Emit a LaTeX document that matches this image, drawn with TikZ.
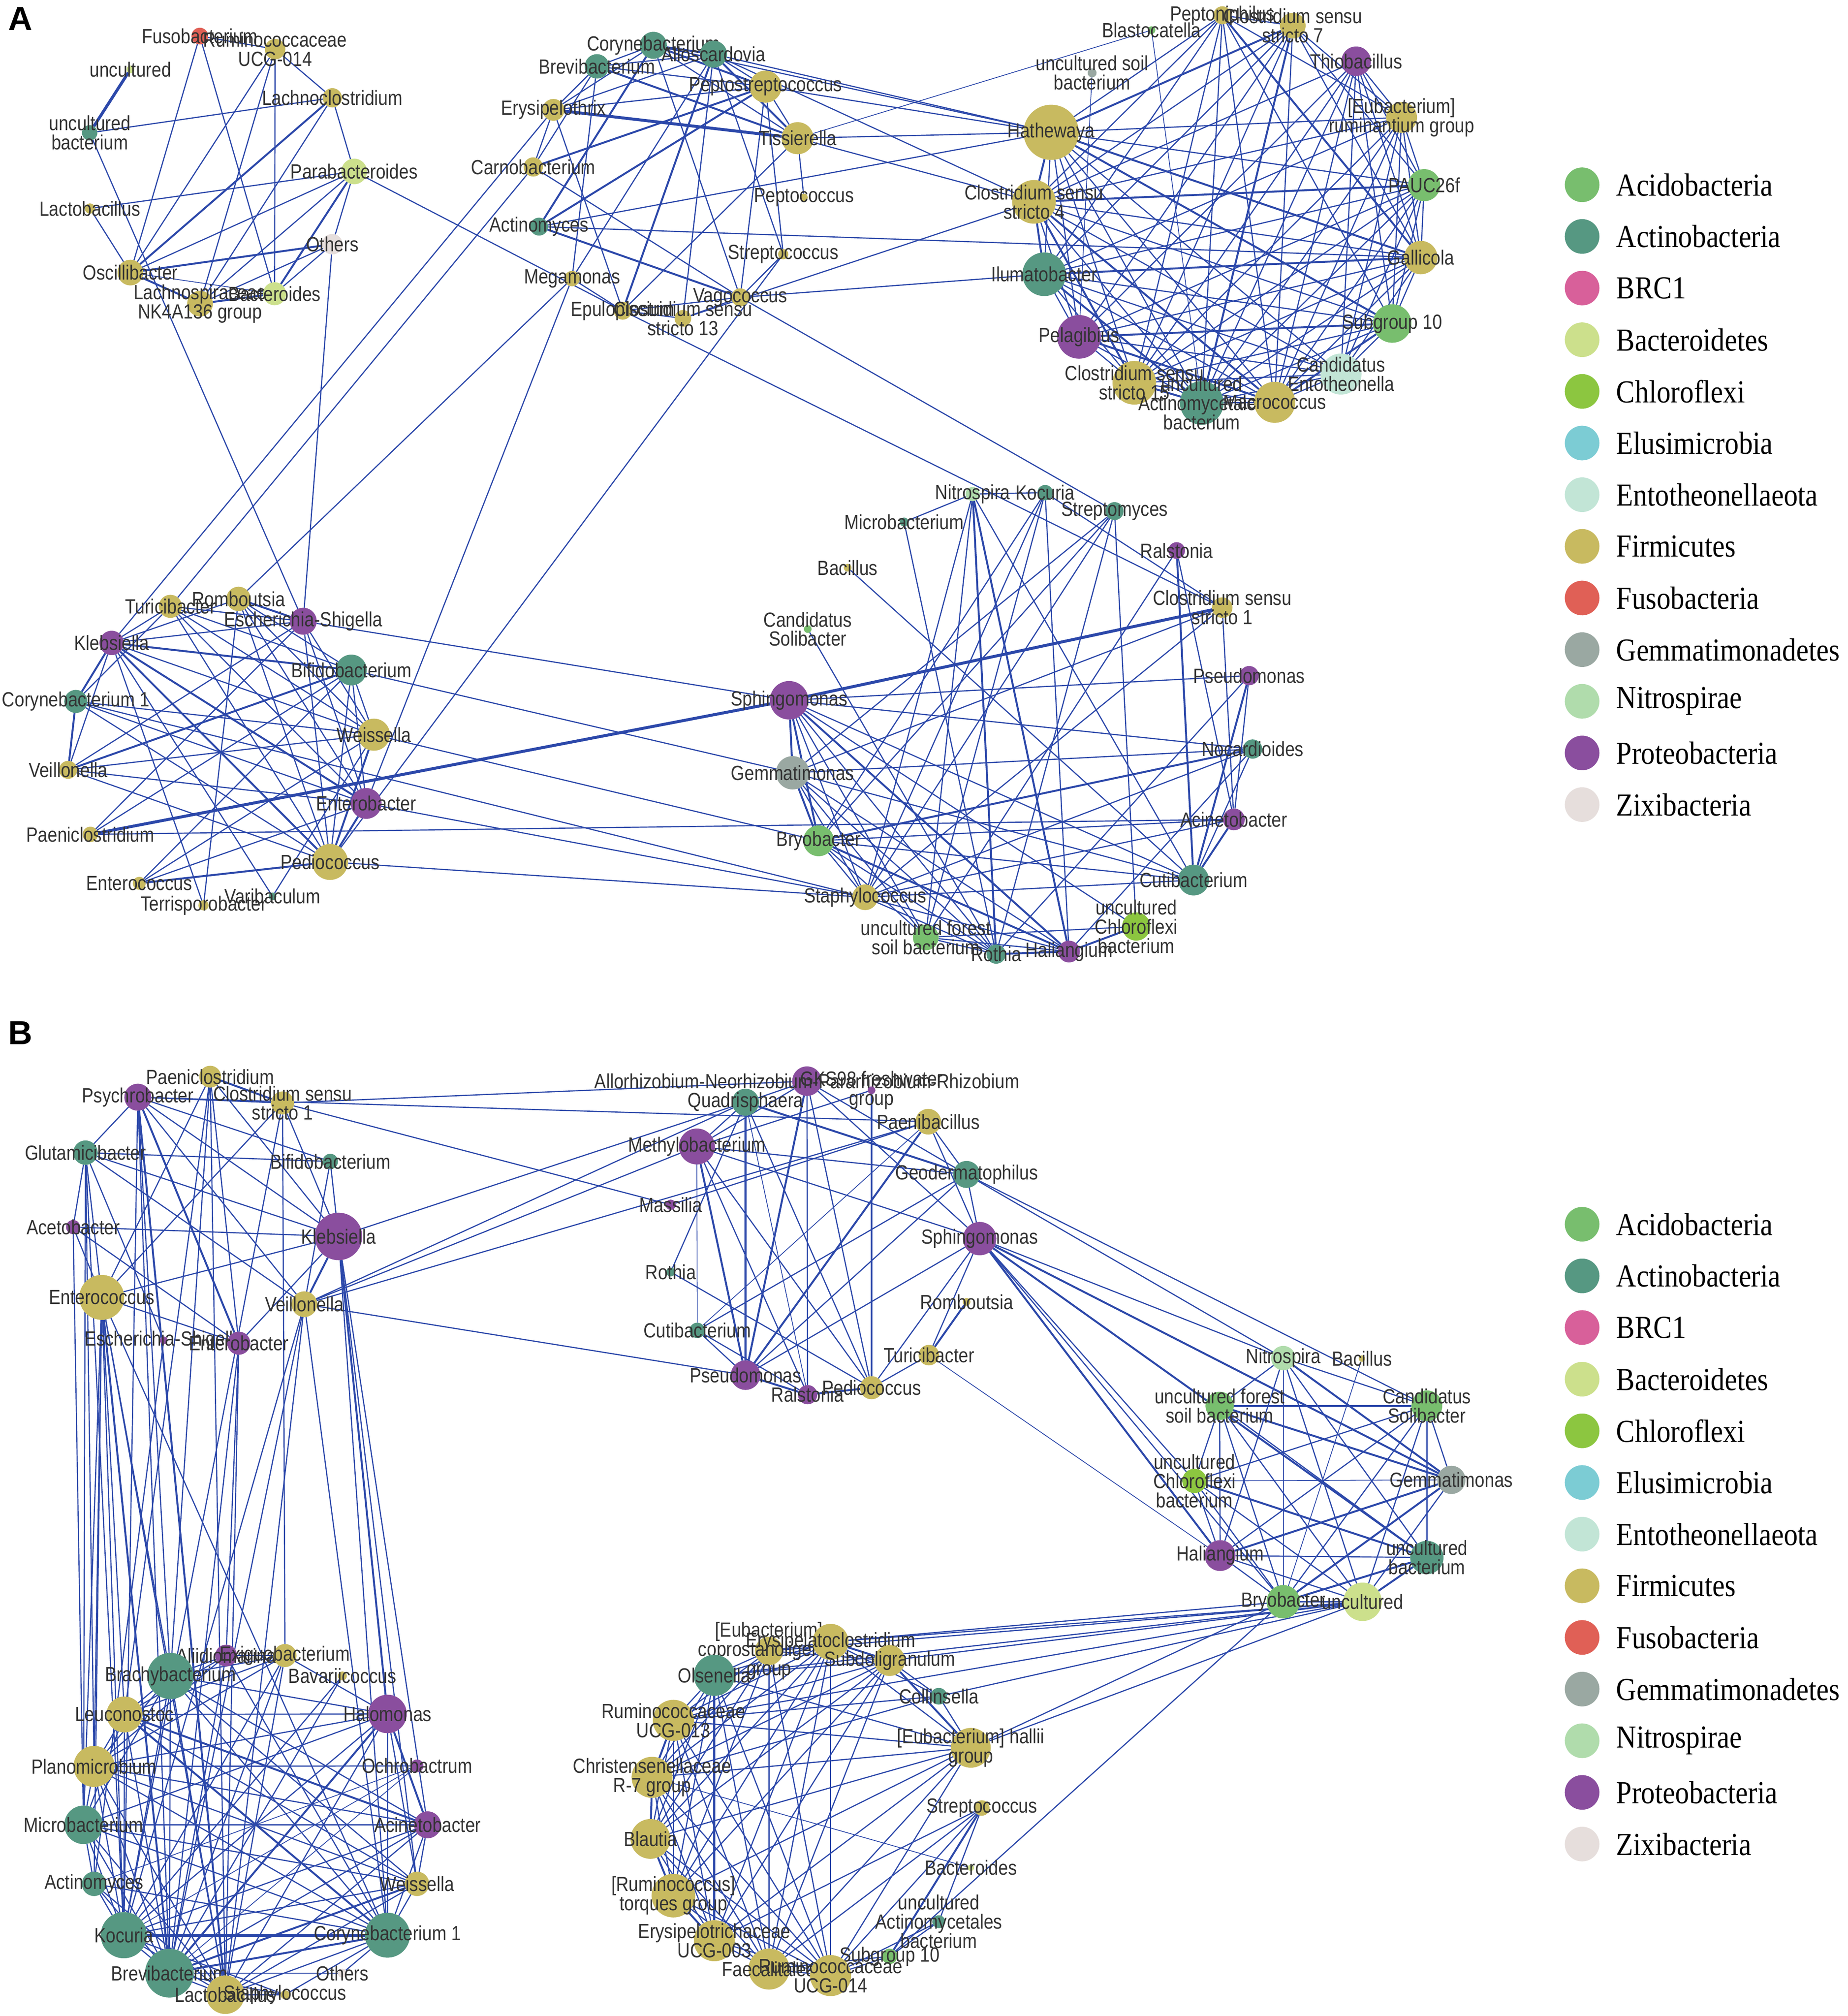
\documentclass[tikz,border=0pt]{standalone}
\usepackage{fontspec}
\setmainfont{Liberation Serif}
\newfontfamily\labfont[FakeStretch=0.85]{Liberation Sans}
\newfontfamily\legfont[FakeStretch=0.87]{Liberation Serif}
\newfontfamily\panelfont{Liberation Sans}
\usetikzlibrary{positioning}
\pgfdeclarelayer{background}
\pgfsetlayers{background,main}
\definecolor{acido}{RGB}{120,190,110}
\definecolor{actino}{RGB}{86,152,130}
\definecolor{brc}{RGB}{216,96,154}
\definecolor{bactero}{RGB}{204,224,140}
\definecolor{chloro}{RGB}{140,198,64}
\definecolor{elusi}{RGB}{124,204,212}
\definecolor{ento}{RGB}{194,229,214}
\definecolor{firm}{RGB}{200,186,96}
\definecolor{fuso}{RGB}{224,96,86}
\definecolor{gemma}{RGB}{154,168,162}
\definecolor{nitro}{RGB}{176,220,172}
\definecolor{proteo}{RGB}{138,78,158}
\definecolor{zixi}{RGB}{230,222,220}
\definecolor{edgeblue}{RGB}{44,72,170}
\definecolor{labgray}{RGB}{51,51,51}

\begin{document}
\begin{tikzpicture}[x=1pt, y=-1pt]
	\tikzstyle{VertexStyle}=[shape=circle, draw=none, inner sep=0pt, outer sep=0pt]
	\tikzstyle{acidoStyle}=[VertexStyle, fill=acido]
	\tikzstyle{actinoStyle}=[VertexStyle, fill=actino]
	\tikzstyle{brcStyle}=[VertexStyle, fill=brc]
	\tikzstyle{bacteroStyle}=[VertexStyle, fill=bactero]
	\tikzstyle{chloroStyle}=[VertexStyle, fill=chloro]
	\tikzstyle{elusiStyle}=[VertexStyle, fill=elusi]
	\tikzstyle{entoStyle}=[VertexStyle, fill=ento]
	\tikzstyle{firmStyle}=[VertexStyle, fill=firm]
	\tikzstyle{fusoStyle}=[VertexStyle, fill=fuso]
	\tikzstyle{gemmaStyle}=[VertexStyle, fill=gemma]
	\tikzstyle{nitroStyle}=[VertexStyle, fill=nitro]
	\tikzstyle{proteoStyle}=[VertexStyle, fill=proteo]
	\tikzstyle{zixiStyle}=[VertexStyle, fill=zixi]
	\tikzstyle{every label}=[font=\labfont\fontsize{16}{15}\selectfont, text=labgray, align=center, inner sep=0pt]
	\tikzstyle{EdgeStyle}=[draw=edgeblue, line width=0.9pt]
	\tikzstyle{thinEdgeStyle}=[draw=edgeblue, line width=0.6pt]
	\tikzstyle{thickEdgeStyle}=[draw=edgeblue, line width=1.5pt]
	\tikzstyle{heavyEdgeStyle}=[draw=edgeblue, line width=2.3pt]
	\tikzstyle{legendStyle}=[font=\legfont\fontsize{25}{25}\selectfont, inner sep=0pt, text=black]
	\tikzstyle{panelStyle}=[font=\panelfont\bfseries\fontsize{26}{26}\selectfont, inner sep=0pt]
	\useasboundingbox (0,0) rectangle (1440,1571);
	\node[panelStyle] (panelA) at (16,14.5) {A};
	\node[panelStyle] (panelB) at (16,805) {B};
	% panel A, upper left group
	\node[fusoStyle, minimum size=13pt, label={center:Fusobacterium}] (aFuso) at (155.7,28.1) {};
	\node[firmStyle, minimum size=16pt, label={center:{Ruminococcaceae\\UCG-014}}] (aRum014) at (214.4,38.3) {};
	\node[bacteroStyle, minimum size=6pt, label={center:uncultured}] (aUncult) at (101.6,54.1) {};
	\node[actinoStyle, minimum size=12pt, label={center:{uncultured\\bacterium}}] (aUncBact) at (69.9,103.5) {};
	\node[firmStyle, minimum size=15pt, label={center:Lachnoclostridium}] (aLachno) at (259,76.2) {};
	\node[bacteroStyle, minimum size=20pt, label={center:Parabacteroides}] (aParab) at (276,133.6) {};
	\node[firmStyle, minimum size=8pt, label={center:Lactobacillus}] (aLacto) at (70.1,162.5) {};
	\node[zixiStyle, minimum size=16pt, label={center:Others}] (aOthers) at (259,190.3) {};
	\node[firmStyle, minimum size=20pt, label={center:Oscillibacter}] (aOscill) at (101.6,212.4) {};
	\node[firmStyle, minimum size=20pt, label={center:{Lachnospiraceae\\NK4A136 group}}] (aLachsp) at (155.9,236.6) {};
	\node[bacteroStyle, minimum size=18pt, label={center:Bacteroides}] (aBacter) at (214,228.9) {};
	% panel A, upper middle group
	\node[actinoStyle, minimum size=21pt, label={center:Corynebacterium}] (aCoryne) at (509.2,35.3) {};
	\node[actinoStyle, minimum size=21pt, label={center:Alloscardovia}] (aAllos) at (556.1,42.2) {};
	\node[actinoStyle, minimum size=19pt, label={center:Brevibacterium}] (aBrevi) at (465.2,51.7) {};
	\node[firmStyle, minimum size=25pt, label={center:Peptostreptococcus}] (aPeptostr) at (596.6,67.5) {};
	\node[firmStyle, minimum size=17pt, label={center:Erysipelothrix}] (aErysip) at (431.3,85.6) {};
	\node[firmStyle, minimum size=25pt, label={center:Tissierella}] (aTissi) at (621.6,107.7) {};
	\node[firmStyle, minimum size=15pt, label={center:Carnobacterium}] (aCarno) at (415.6,130.1) {};
	\node[firmStyle, minimum size=6pt, label={center:Peptococcus}] (aPeptoc) at (626.5,153.9) {};
	\node[actinoStyle, minimum size=14pt, label={center:Actinomyces}] (aActino) at (420.1,176.6) {};
	\node[firmStyle, minimum size=8pt, label={center:Streptococcus}] (aStrepto) at (610.4,198.1) {};
	\node[firmStyle, minimum size=12pt, label={center:Megamonas}] (aMegam) at (445.8,217.1) {};
	\node[firmStyle, minimum size=14pt, label={center:Vagococcus}] (aVago) at (576.9,231.7) {};
	\node[firmStyle, minimum size=14pt, label={center:Epulopiscium}] (aEpulo) at (485.3,242.1) {};
	\node[firmStyle, minimum size=13pt, label={center:{Clostridium sensu\\stricto 13}}] (aClos13) at (532.2,248.1) {};
	% panel A, upper right group
	\node[firmStyle, minimum size=14pt, label={center:Peptoniphilus}] (aPeptoni) at (952.6,11.9) {};
	\node[acidoStyle, minimum size=6pt, label={center:Blastocatella}] (aBlasto) at (897.4,23.5) {};
	\node[firmStyle, minimum size=20pt, label={center:{Clostridium sensu\\stricto 7}}] (aClos7) at (1007.5,20) {};
	\node[proteoStyle, minimum size=23pt, label={center:Thiobacillus}] (aThio) at (1056.9,47.7) {};
	\node[gemmaStyle, minimum size=7pt, label={center:{uncultured soil\\bacterium}}] (aUncSoil) at (851.1,56.8) {};
	\node[firmStyle, minimum size=24pt, label={center:{[Eubacterium]\\ruminantium group}}] (aEubRum) at (1092.3,91.5) {};
	\node[firmStyle, minimum size=43pt, label={center:Hathewaya}] (aHathe) at (819.2,103.1) {};
	\node[acidoStyle, minimum size=25pt, label={center:PAUC26f}] (aPAUC) at (1109.9,144.3) {};
	\node[firmStyle, minimum size=34pt, label={center:{Clostridium sensu\\stricto 4}}] (aClos4) at (805.8,157.3) {};
	\node[firmStyle, minimum size=26pt, label={center:Gallicola}] (aGalli) at (1107.3,200.7) {};
	\node[actinoStyle, minimum size=34pt, label={center:Ilumatobacter}] (aIluma) at (813.8,213.7) {};
	\node[acidoStyle, minimum size=30pt, label={center:Subgroup 10}] (aSub10) at (1085,252.1) {};
	\node[proteoStyle, minimum size=34pt, label={center:Pelagibius}] (aPelag) at (840.9,262.5) {};
	\node[entoStyle, minimum size=32pt, label={center:{Candidatus\\Entotheonella}}] (aEntoth) at (1045.1,291.5) {};
	\node[firmStyle, minimum size=34pt, label={center:{Clostridium sensu\\stricto 15}}] (aClos15) at (884,298.3) {};
	\node[actinoStyle, minimum size=34pt, label={center:{uncultured\\Actinomycetales\\bacterium}}] (aUncActino) at (936.6,314) {};
	\node[firmStyle, minimum size=32pt, label={center:Macrococcus}] (aMacro) at (993.4,313.5) {};
	% panel A, lower left group
	\node[firmStyle, minimum size=18pt, label={center:Turicibacter}] (aTurici) at (132.8,472.5) {};
	\node[firmStyle, minimum size=19pt, label={center:Romboutsia}] (aRombo) at (185.9,466.7) {};
	\node[proteoStyle, minimum size=21pt, label={center:Escherichia-Shigella}] (aEsch) at (236.3,484.1) {};
	\node[proteoStyle, minimum size=19pt, label={center:Klebsiella}] (aKleb) at (87,501) {};
	\node[actinoStyle, minimum size=24pt, label={center:Bifidobacterium}] (aBifido) at (273.8,522.1) {};
	\node[actinoStyle, minimum size=18pt, label={center:Corynebacterium 1}] (aCoryne1) at (59.1,546.6) {};
	\node[firmStyle, minimum size=25pt, label={center:Weissella}] (aWeiss) at (291.4,572.5) {};
	\node[firmStyle, minimum size=14pt, label={center:Veillonella}] (aVeill) at (53.1,599.9) {};
	\node[proteoStyle, minimum size=24pt, label={center:Enterobacter}] (aEntbac) at (285.4,626.1) {};
	\node[firmStyle, minimum size=12pt, label={center:Paeniclostridium}] (aPaeni) at (70.4,650.2) {};
	\node[firmStyle, minimum size=28pt, label={center:Pediococcus}] (aPedio) at (257.2,671.7) {};
	\node[firmStyle, minimum size=10pt, label={center:Enterococcus}] (aEntcoc) at (108.5,688.3) {};
	\node[firmStyle, minimum size=8pt, label={center:Terrisporobacter}] (aTerri) at (158.6,705.5) {};
	\node[actinoStyle, minimum size=6pt, label={center:Varibaculum}] (aVarib) at (212.4,698.5) {};
	% panel A, lower right group
	\node[nitroStyle, minimum size=11pt, label={center:Nitrospira}] (aNitro) at (758,385) {};
	\node[actinoStyle, minimum size=12pt, label={center:Kocuria}] (aKocur) at (814.5,383.9) {};
	\node[actinoStyle, minimum size=7pt, label={center:Microbacterium}] (aMicro) at (704.6,406.8) {};
	\node[actinoStyle, minimum size=14pt, label={center:Streptomyces}] (aStrmy) at (868.6,398.3) {};
	\node[proteoStyle, minimum size=13pt, label={center:Ralstonia}] (aRals) at (917,429) {};
	\node[firmStyle, minimum size=6pt, label={center:Bacillus}] (aBacil) at (660.6,442.4) {};
	\node[firmStyle, minimum size=16pt, label={center:{Clostridium sensu\\stricto 1}}] (aClos1) at (952.5,473.5) {};
	\node[acidoStyle, minimum size=6pt, label={center:{Candidatus\\Solibacter}}] (aCandSol) at (629.5,490.2) {};
	\node[proteoStyle, minimum size=15pt, label={center:Pseudomonas}] (aPseudo) at (973.5,526.5) {};
	\node[proteoStyle, minimum size=30pt, label={center:Sphingomonas}] (aSphingo) at (615,545.7) {};
	\node[actinoStyle, minimum size=15pt, label={center:Nocardioides}] (aNocar) at (976.2,583.7) {};
	\node[gemmaStyle, minimum size=26pt, label={center:Gemmatimonas}] (aGemma) at (617.7,602.2) {};
	\node[proteoStyle, minimum size=17pt, label={center:Acinetobacter}] (aAcine) at (961.6,638.5) {};
	\node[acidoStyle, minimum size=24pt, label={center:Bryobacter}] (aBryo) at (638,655.2) {};
	\node[actinoStyle, minimum size=24pt, label={center:Cutibacterium}] (aCuti) at (930.2,685.8) {};
	\node[firmStyle, minimum size=20pt, label={center:Staphylococcus}] (aStaph) at (674.2,699.2) {};
	\node[acidoStyle, minimum size=20pt, label={center:{uncultured forest\\soil bacterium}}] (aUncForest) at (721.5,730.5) {};
	\node[chloroStyle, minimum size=22pt, label={center:{uncultured\\Chloroflexi\\bacterium}}] (aUncChloro) at (885.5,722) {};
	\node[actinoStyle, minimum size=15pt, label={center:Rothia}] (aRothia) at (776.3,743.5) {};
	\node[proteoStyle, minimum size=17pt, label={center:Haliangium}] (aHalia) at (833.1,741.5) {};
	% panel B, upper left group
	\node[firmStyle, minimum size=17pt, label={center:Paeniclostridium}] (bPaeni) at (163.8,839) {};
	\node[proteoStyle, minimum size=21pt, label={center:Psychrobacter}] (bPsych) at (107.4,855) {};
	\node[firmStyle, minimum size=18pt, label={center:{Clostridium sensu\\stricto 1}}] (bClos1) at (220.2,859.5) {};
	\node[actinoStyle, minimum size=19pt, label={center:Glutamicibacter}] (bGluta) at (66.6,898.2) {};
	\node[actinoStyle, minimum size=12pt, label={center:Bifidobacterium}] (bBifido) at (257.4,905.1) {};
	\node[proteoStyle, minimum size=11pt, label={center:Acetobacter}] (bAceto) at (57,956.2) {};
	\node[proteoStyle, minimum size=37pt, label={center:Klebsiella}] (bKleb) at (263.8,963.5) {};
	\node[firmStyle, minimum size=35pt, label={center:Enterococcus}] (bEntcoc) at (79.3,1011) {};
	\node[firmStyle, minimum size=20pt, label={center:Veillonella}] (bVeill) at (237.2,1016.3) {};
	\node[proteoStyle, minimum size=6pt, label={center:Escherichia-Shigella}] (bEsch) at (127.6,1044.5) {};
	\node[proteoStyle, minimum size=18pt, label={center:Enterobacter}] (bEntbac) at (186.1,1046.7) {};
	% panel B, upper middle group
	\node[proteoStyle, minimum size=23pt, label={center:Allorhizobium-Neorhizobium-Pararhizobium-Rhizobium}] (bAllorh) at (628.9,842.5) {};
	\node[proteoStyle, minimum size=6pt, label={center:{GKS98 freshwater\\group}}] (bGKS) at (679.2,849.6) {};
	\node[actinoStyle, minimum size=21pt, label={center:Quadrisphaera}] (bQuadri) at (581,858.9) {};
	\node[firmStyle, minimum size=20pt, label={center:Paenibacillus}] (bPaenib) at (723.4,874.1) {};
	\node[proteoStyle, minimum size=28pt, label={center:Methylobacterium}] (bMethyl) at (543.1,893.4) {};
	\node[actinoStyle, minimum size=21pt, label={center:Geodermatophilus}] (bGeoder) at (753.3,915.2) {};
	\node[proteoStyle, minimum size=8pt, label={center:Massilia}] (bMassil) at (522.7,938.8) {};
	\node[proteoStyle, minimum size=26pt, label={center:Sphingomonas}] (bSphingo) at (763.5,965.2) {};
	\node[actinoStyle, minimum size=7pt, label={center:Rothia}] (bRothia) at (522.7,991.2) {};
	\node[firmStyle, minimum size=6pt, label={center:Romboutsia}] (bRombo) at (753.3,1014.5) {};
	\node[actinoStyle, minimum size=12pt, label={center:Cutibacterium}] (bCuti) at (543.4,1036.7) {};
	\node[firmStyle, minimum size=16pt, label={center:Turicibacter}] (bTurici) at (723.9,1056) {};
	\node[proteoStyle, minimum size=23pt, label={center:Pseudomonas}] (bPseudo) at (581,1071.6) {};
	\node[firmStyle, minimum size=18pt, label={center:Pediococcus}] (bPedio) at (679.2,1081.4) {};
	\node[proteoStyle, minimum size=15pt, label={center:Ralstonia}] (bRals) at (629.4,1086.8) {};
	% panel B, right group
	\node[nitroStyle, minimum size=19pt, label={center:Nitrospira}] (bNitro) at (1000.1,1058.3) {};
	\node[firmStyle, minimum size=5pt, label={center:Bacillus}] (bBacil) at (1061.4,1058.7) {};
	\node[acidoStyle, minimum size=22pt, label={center:{uncultured forest\\soil bacterium}}] (bUncForest) at (950.5,1095.5) {};
	\node[acidoStyle, minimum size=24pt, label={center:{Candidatus\\Solibacter}}] (bCandSol) at (1112,1095.5) {};
	\node[chloroStyle, minimum size=19pt, label={center:{uncultured\\Chloroflexi\\bacterium}}] (bUncChloro) at (930.9,1154) {};
	\node[gemmaStyle, minimum size=22pt, label={center:Gemmatimonas}] (bGemma) at (1131.1,1153.2) {};
	\node[proteoStyle, minimum size=24pt, label={center:Haliangium}] (bHalia) at (950.9,1212.2) {};
	\node[actinoStyle, minimum size=26pt, label={center:{uncultured\\bacterium}}] (bUncBact) at (1112,1213.7) {};
	\node[acidoStyle, minimum size=26pt, label={center:Bryobacter}] (bBryo) at (1000.1,1248.2) {};
	\node[bacteroStyle, minimum size=30pt, label={center:uncultured}] (bUncult) at (1061.9,1248.2) {};
	% panel B, lower left group
	\node[proteoStyle, minimum size=17pt, label={center:Aliidiomarina}] (bAliidi) at (176.2,1290.1) {};
	\node[firmStyle, minimum size=18pt, label={center:Exiguobacterium}] (bExigu) at (222.1,1290.1) {};
	\node[actinoStyle, minimum size=36pt, label={center:Brachybacterium}] (bBrachy) at (132.8,1306) {};
	\node[firmStyle, minimum size=7pt, label={center:Bavariicoccus}] (bBavar) at (266.8,1306) {};
	\node[firmStyle, minimum size=28pt, label={center:Leuconostoc}] (bLeuco) at (97,1336) {};
	\node[proteoStyle, minimum size=30pt, label={center:Halomonas}] (bHalom) at (302,1335.6) {};
	\node[firmStyle, minimum size=32pt, label={center:Planomicrobium}] (bPlano) at (73.3,1376.5) {};
	\node[proteoStyle, minimum size=10pt, label={center:Ochrobactrum}] (bOchro) at (325,1376.1) {};
	\node[actinoStyle, minimum size=30pt, label={center:Microbacterium}] (bMicro) at (65.1,1422) {};
	\node[proteoStyle, minimum size=21pt, label={center:Acinetobacter}] (bAcine) at (333.2,1422) {};
	\node[actinoStyle, minimum size=19pt, label={center:Actinomyces}] (bActino) at (73.3,1468) {};
	\node[firmStyle, minimum size=19pt, label={center:Weissella}] (bWeiss) at (325,1468) {};
	\node[actinoStyle, minimum size=36pt, label={center:Kocuria}] (bKocur) at (96.5,1508) {};
	\node[actinoStyle, minimum size=35pt, label={center:Corynebacterium 1}] (bCoryne1) at (302,1508) {};
	\node[actinoStyle, minimum size=38pt, label={center:Brevibacterium}] (bBrevi) at (132,1537.6) {};
	\node[zixiStyle, minimum size=7pt, label={center:Others}] (bOthers) at (266.8,1537.6) {};
	\node[firmStyle, minimum size=30pt, label={center:Lactobacillus}] (bLacto) at (175.6,1554.4) {};
	\node[firmStyle, minimum size=7pt, label={center:Staphylococcus}] (bStaph) at (222.1,1554.4) {};
	% panel B, lower middle group
	\node[firmStyle, minimum size=22pt, label={center:{[Eubacterium]\\coprostanoligenes\\group}}] (bEubCop) at (599.3,1286.5) {};
	\node[firmStyle, minimum size=28pt, label={center:Erysipelatoclostridium}] (bErysc) at (647.3,1279.4) {};
	\node[firmStyle, minimum size=24pt, label={center:Subdoligranulum}] (bSubdo) at (693.3,1294) {};
	\node[actinoStyle, minimum size=32pt, label={center:Olsenella}] (bOlsen) at (556.7,1305.5) {};
	\node[actinoStyle, minimum size=13pt, label={center:Collinsella}] (bCollin) at (731.6,1321.8) {};
	\node[firmStyle, minimum size=32pt, label={center:{Ruminococcaceae\\UCG-013}}] (bRum013) at (524.8,1340.6) {};
	\node[firmStyle, minimum size=31pt, label={center:{[Eubacterium] hallii\\group}}] (bEubHal) at (756.6,1362) {};
	\node[firmStyle, minimum size=32pt, label={center:{Christensenellaceae\\R-7 group}}] (bChris) at (508.2,1385) {};
	\node[firmStyle, minimum size=12pt, label={center:Streptococcus}] (bStrepto) at (765.2,1408.9) {};
	\node[firmStyle, minimum size=31pt, label={center:Blautia}] (bBlautia) at (506.9,1433) {};
	\node[bacteroStyle, minimum size=5pt, label={center:Bacteroides}] (bBactero) at (756.6,1455.5) {};
	\node[firmStyle, minimum size=34pt, label={center:{[Ruminococcus]\\torques group}}] (bRumTor) at (524.8,1477.2) {};
	\node[actinoStyle, minimum size=10pt, label={center:{uncultured\\Actinomycetales\\bacterium}}] (bUncActino) at (731.6,1497.5) {};
	\node[firmStyle, minimum size=32pt, label={center:{Erysipelotrichaceae\\UCG-003}}] (bEry003) at (556.7,1512.3) {};
	\node[acidoStyle, minimum size=12pt, label={center:Subgroup 10}] (bSub10) at (693.3,1524.5) {};
	\node[firmStyle, minimum size=32pt, label={center:Faecalitalea}] (bFaecal) at (599.3,1534.4) {};
	\node[firmStyle, minimum size=32pt, label={center:{Ruminococcaceae\\UCG-014}}] (bRum014) at (647.3,1539.5) {};
	% edges, panel A
	\begin{pgfonlayer}{background}
	\path[EdgeStyle] (aFuso) edge (aRum014) edge (aOscill) edge (aBacter);
	\path[EdgeStyle] (aRum014) edge (aLachno) edge (aOscill) edge (aLachsp) edge (aBacter);
	\path[EdgeStyle] (aUncBact) edge (aLachno) edge (aEsch);
	\path[EdgeStyle] (aLachno) edge (aLachsp) edge (aParab);
	\path[EdgeStyle] (aParab) edge (aLacto) edge (aOscill) edge (aLachsp) edge (aOthers) edge (aEpulo);
	\path[EdgeStyle] (aOthers) edge (aLachsp) edge (aBacter) edge (aEsch);
	\path[EdgeStyle] (aLacto) edge (aOscill);
	\path[thinEdgeStyle] (aOscill) edge (aBacter);
	\path[heavyEdgeStyle] (aUncult) edge (aUncBact);
	\path[thickEdgeStyle] (aLachno) edge (aOscill);
	\path[thickEdgeStyle] (aParab) edge (aBacter);
	\path[thickEdgeStyle] (aOthers) edge (aOscill);
	\path[thickEdgeStyle] (aOscill) edge (aLachsp);
	\path[thickEdgeStyle] (aLachsp) edge (aBacter);
	\path[EdgeStyle] (aCoryne) edge (aBrevi) edge (aErysip) edge (aTissi) edge (aVago) edge (aHathe);
	\path[EdgeStyle] (aAllos) edge (aBrevi) edge (aErysip) edge (aPeptostr) edge (aClos13) edge (aStrepto) edge (aMegam) edge (aHathe) edge (aClos4);
	\path[EdgeStyle] (aBrevi) edge (aErysip) edge (aPeptostr) edge (aMegam) edge (aCarno);
	\path[EdgeStyle] (aErysip) edge (aPeptostr) edge (aEpulo) edge (aCarno) edge (aKleb);
	\path[EdgeStyle] (aPeptostr) edge (aTissi) edge (aVago) edge (aStrepto) edge (aHathe);
	\path[EdgeStyle] (aTissi) edge (aPeptoc) edge (aEpulo) edge (aHathe) edge (aClos4);
	\path[EdgeStyle] (aCarno) edge (aVago) edge (aTurici);
	\path[EdgeStyle] (aActino) edge (aHathe) edge (aGalli);
	\path[EdgeStyle] (aMegam) edge (aEpulo) edge (aEntbac) edge (aRombo);
	\path[EdgeStyle] (aVago) edge (aStrepto) edge (aClos13) edge (aEpulo) edge (aIluma) edge (aStrmy);
	\path[EdgeStyle] (aEpulo) edge (aClos13) edge (aClos1);
	\path[EdgeStyle] (aClos13) edge (aClos4);
	\path[EdgeStyle] (aStrepto) edge (aPedio);
	\path[thinEdgeStyle] (aBlasto) edge (aTissi) edge (aUncActino);
	\path[thickEdgeStyle] (aCoryne) edge (aAllos) edge (aPeptostr) edge (aActino);
	\path[thickEdgeStyle] (aAllos) edge (aTissi) edge (aEpulo);
	\path[thickEdgeStyle] (aBrevi) edge (aTissi);
	\path[thickEdgeStyle] (aPeptostr) edge (aActino) edge (aCarno);
	\path[thickEdgeStyle] (aActino) edge (aVago);
	\path[heavyEdgeStyle] (aErysip) edge (aTissi);
	\path[EdgeStyle] (aHathe) edge (aPeptoni) edge (aEubRum) edge (aPAUC) edge (aIluma) edge (aPelag) edge (aEntoth) edge (aClos15) edge (aUncActino) edge (aMacro);
	\path[thickEdgeStyle] (aHathe) edge (aClos7) edge (aClos4) edge (aGalli) edge (aSub10);
	\path[EdgeStyle] (aClos4) edge (aClos7) edge (aThio) edge (aEubRum) edge (aGalli) edge (aSub10) edge (aPelag) edge (aEntoth) edge (aUncActino) edge (aPeptoni);
	\path[thickEdgeStyle] (aClos4) edge (aPAUC) edge (aIluma) edge (aClos15) edge (aMacro);
	\path[EdgeStyle] (aIluma) edge (aPeptoni) edge (aClos7) edge (aEubRum) edge (aPAUC) edge (aSub10) edge (aPelag) edge (aEntoth) edge (aClos15) edge (aMacro);
	\path[thickEdgeStyle] (aIluma) edge (aGalli) edge (aUncActino);
	\path[EdgeStyle] (aPelag) edge (aClos7) edge (aThio) edge (aPAUC) edge (aGalli) edge (aEntoth) edge (aClos15) edge (aUncActino);
	\path[thickEdgeStyle] (aPelag) edge (aSub10) edge (aMacro);
	\path[EdgeStyle] (aClos15) edge (aPeptoni) edge (aClos7) edge (aThio) edge (aEubRum) edge (aPAUC) edge (aGalli) edge (aSub10) edge (aEntoth) edge (aMacro);
	\path[thickEdgeStyle] (aClos15) edge (aUncActino);
	\path[EdgeStyle] (aUncActino) edge (aPeptoni) edge (aThio) edge (aEubRum) edge (aPAUC) edge (aGalli) edge (aSub10) edge (aEntoth) edge (aMacro);
	\path[thickEdgeStyle] (aUncActino) edge (aClos7);
	\path[EdgeStyle] (aMacro) edge (aPeptoni) edge (aClos7) edge (aThio) edge (aEubRum) edge (aPAUC) edge (aGalli) edge (aEntoth);
	\path[thickEdgeStyle] (aMacro) edge (aSub10);
	\path[EdgeStyle] (aEntoth) edge (aThio) edge (aEubRum) edge (aPAUC) edge (aGalli) edge (aSub10);
	\path[EdgeStyle] (aSub10) edge (aPeptoni) edge (aThio) edge (aEubRum) edge (aPAUC) edge (aGalli);
	\path[EdgeStyle] (aGalli) edge (aClos7) edge (aThio) edge (aEubRum) edge (aPAUC);
	\path[thickEdgeStyle] (aGalli) edge (aPeptoni);
	\path[EdgeStyle] (aPAUC) edge (aClos7) edge (aThio) edge (aEubRum);
	\path[EdgeStyle] (aEubRum) edge (aClos7) edge (aThio) edge (aPeptoni);
	\path[EdgeStyle] (aPeptoni) edge (aClos7);
	\path[thinEdgeStyle] (aUncSoil) edge (aPelag);
	\path[EdgeStyle] (aTurici) edge (aKleb) edge (aEsch) edge (aBifido) edge (aWeiss) edge (aEntbac) edge (aPedio) edge (aCoryne1);
	\path[EdgeStyle] (aRombo) edge (aKleb) edge (aBifido) edge (aWeiss) edge (aEntbac) edge (aPedio) edge (aTerri);
	\path[EdgeStyle] (aEsch) edge (aKleb) edge (aWeiss) edge (aEntbac) edge (aPedio) edge (aVeill) edge (aPaeni) edge (aSphingo);
	\path[EdgeStyle] (aKleb) edge (aWeiss) edge (aVeill) edge (aTerri) edge (aVarib);
	\path[EdgeStyle] (aBifido) edge (aWeiss) edge (aEntbac) edge (aPedio) edge (aPaeni) edge (aEntcoc) edge (aGemma);
	\path[EdgeStyle] (aCoryne1) edge (aWeiss) edge (aEntbac) edge (aPedio) edge (aStaph);
	\path[EdgeStyle] (aWeiss) edge (aVeill) edge (aEntcoc) edge (aVarib) edge (aBryo);
	\path[EdgeStyle] (aVeill) edge (aEntbac) edge (aPedio);
	\path[EdgeStyle] (aEntbac) edge (aEntcoc) edge (aStaph);
	\path[EdgeStyle] (aPaeni) edge (aAcine);
	\path[EdgeStyle] (aPedio) edge (aStaph);
	\path[thickEdgeStyle] (aRombo) edge (aEsch);
	\path[thickEdgeStyle] (aKleb) edge (aBifido) edge (aEntbac) edge (aPedio) edge (aCoryne1);
	\path[thickEdgeStyle] (aBifido) edge (aVeill);
	\path[thickEdgeStyle] (aCoryne1) edge (aVeill);
	\path[thickEdgeStyle] (aPedio) edge (aEntcoc) edge (aWeiss) edge (aEntbac);
	\path[heavyEdgeStyle] (aPaeni) edge (aSphingo);
	\path[EdgeStyle] (aSphingo) edge (aPseudo) edge (aNocar) edge (aStaph) edge (aUncForest) edge (aRothia) edge (aCuti) edge (aUncChloro);
	\path[EdgeStyle] (aGemma) edge (aNocar) edge (aStaph) edge (aUncForest) edge (aRothia) edge (aHalia) edge (aCuti) edge (aStrmy) edge (aClos1);
	\path[EdgeStyle] (aBryo) edge (aAcine) edge (aStaph) edge (aUncForest) edge (aRothia) edge (aCuti) edge (aStrmy) edge (aKocur);
	\path[EdgeStyle] (aCandSol) edge (aRothia);
	\path[EdgeStyle] (aBacil) edge (aCuti);
	\path[EdgeStyle] (aMicro) edge (aNitro) edge (aRothia);
	\path[EdgeStyle] (aNitro) edge (aKocur) edge (aStaph) edge (aCuti) edge (aUncForest);
	\path[EdgeStyle] (aKocur) edge (aClos1) edge (aStaph) edge (aUncForest) edge (aHalia);
	\path[EdgeStyle] (aStrmy) edge (aStaph) edge (aUncChloro) edge (aRothia);
	\path[EdgeStyle] (aRals) edge (aAcine) edge (aUncForest);
	\path[EdgeStyle] (aClos1) edge (aStaph) edge (aAcine);
	\path[EdgeStyle] (aPseudo) edge (aAcine) edge (aRothia);
	\path[EdgeStyle] (aNocar) edge (aCuti) edge (aStaph) edge (aHalia);
	\path[EdgeStyle] (aAcine) edge (aStaph);
	\path[EdgeStyle] (aCuti) edge (aStaph);
	\path[EdgeStyle] (aUncForest) edge (aRothia) edge (aHalia) edge (aUncChloro);
	\path[EdgeStyle] (aStaph) edge (aHalia) edge (aRothia);
	\path[thickEdgeStyle] (aSphingo) edge (aGemma) edge (aBryo) edge (aHalia);
	\path[heavyEdgeStyle] (aSphingo) edge (aClos1);
	\path[thickEdgeStyle] (aGemma) edge (aBryo);
	\path[thickEdgeStyle] (aBryo) edge (aNocar) edge (aHalia);
	\path[thickEdgeStyle] (aNitro) edge (aRothia) edge (aHalia);
	\path[thickEdgeStyle] (aCuti) edge (aRals) edge (aPseudo) edge (aAcine);
	\path[thickEdgeStyle] (aHalia) edge (aRothia) edge (aUncChloro);
	% edges, panel B
	\path[EdgeStyle] (bPsych) edge (bClos1) edge (bGluta) edge (bBifido) edge (bKleb) edge (bVeill) edge (bPaenib) edge (bBrevi) edge (bKocur) edge (bBrachy);
	\path[EdgeStyle] (bPaeni) edge (bEntbac) edge (bEntcoc) edge (bKleb) edge (bBrachy) edge (bLeuco) edge (bLacto);
	\path[EdgeStyle] (bClos1) edge (bEntcoc) edge (bKleb) edge (bAllorh) edge (bMassil) edge (bKocur) edge (bExigu);
	\path[EdgeStyle] (bGluta) edge (bBifido) edge (bKleb) edge (bAceto) edge (bEntcoc) edge (bVeill) edge (bEsch) edge (bMicro) edge (bKocur) edge (bPlano);
	\path[EdgeStyle] (bAceto) edge (bKleb) edge (bEntcoc) edge (bEntbac) edge (bMicro);
	\path[EdgeStyle] (bBifido) edge (bKleb) edge (bVeill);
	\path[EdgeStyle] (bKleb) edge (bEntcoc) edge (bEntbac) edge (bQuadri) edge (bCoryne1) edge (bWeiss) edge (bAcine);
	\path[EdgeStyle] (bEntcoc) edge (bEntbac) edge (bLeuco) edge (bPlano) edge (bMicro) edge (bActino) edge (bKocur) edge (bLacto) edge (bBrachy) edge (bCoryne1);
	\path[EdgeStyle] (bVeill) edge (bMethyl) edge (bQuadri) edge (bPaenib) edge (bPseudo) edge (bBrevi) edge (bKocur) edge (bLacto) edge (bCoryne1);
	\path[EdgeStyle] (bEntbac) edge (bLacto) edge (bBrevi) edge (bAliidi);
	\path[EdgeStyle] (bEsch) edge (bActino);
	\path[thickEdgeStyle] (bPsych) edge (bEntbac) edge (bLacto);
	\path[thickEdgeStyle] (bPaeni) edge (bClos1);
	\path[thickEdgeStyle] (bKleb) edge (bVeill) edge (bHalom);
	\path[thickEdgeStyle] (bEntcoc) edge (bBrevi);
	\path[EdgeStyle] (bBrachy) edge (bLeuco) edge (bPlano) edge (bMicro) edge (bKocur) edge (bBrevi) edge (bLacto) edge (bHalom) edge (bAcine) edge (bCoryne1) edge (bExigu) edge (bWeiss);
	\path[EdgeStyle] (bAliidi) edge (bExigu) edge (bBrachy) edge (bLeuco) edge (bPlano) edge (bCoryne1) edge (bBrevi);
	\path[EdgeStyle] (bExigu) edge (bLeuco) edge (bHalom) edge (bBrevi) edge (bKocur) edge (bPlano) edge (bLacto);
	\path[EdgeStyle] (bBavar) edge (bBrevi) edge (bKocur);
	\path[EdgeStyle] (bLeuco) edge (bHalom) edge (bPlano) edge (bMicro) edge (bKocur) edge (bBrevi) edge (bWeiss);
	\path[EdgeStyle] (bHalom) edge (bPlano) edge (bMicro) edge (bKocur) edge (bCoryne1) edge (bWeiss) edge (bLacto);
	\path[EdgeStyle] (bPlano) edge (bMicro) edge (bKocur) edge (bBrevi) edge (bAcine) edge (bCoryne1) edge (bWeiss) edge (bLacto) edge (bOchro);
	\path[thinEdgeStyle] (bOchro) edge (bKocur) edge (bBrevi) edge (bActino);
	\path[EdgeStyle] (bMicro) edge (bKocur) edge (bBrevi) edge (bActino) edge (bAcine) edge (bCoryne1) edge (bWeiss) edge (bLacto);
	\path[EdgeStyle] (bAcine) edge (bKocur) edge (bBrevi) edge (bCoryne1) edge (bWeiss) edge (bLacto);
	\path[EdgeStyle] (bActino) edge (bKocur) edge (bBrevi) edge (bCoryne1) edge (bLacto);
	\path[EdgeStyle] (bWeiss) edge (bKocur) edge (bCoryne1) edge (bLacto);
	\path[EdgeStyle] (bKocur) edge (bBrevi) edge (bLacto) edge (bStaph);
	\path[EdgeStyle] (bCoryne1) edge (bLacto) edge (bStaph) edge (bOthers);
	\path[EdgeStyle] (bBrevi) edge (bLacto) edge (bOthers) edge (bStaph);
	\path[EdgeStyle] (bLacto) edge (bStaph);
	\path[thickEdgeStyle] (bLeuco) edge (bAcine) edge (bCoryne1);
	\path[thickEdgeStyle] (bHalom) edge (bBrevi) edge (bAcine);
	\path[thickEdgeStyle] (bWeiss) edge (bBrevi);
	\path[thickEdgeStyle] (bCoryne1) edge (bBrevi);
	\path[heavyEdgeStyle] (bKocur) edge (bCoryne1);
	\path[EdgeStyle] (bAllorh) edge (bQuadri) edge (bMethyl) edge (bGeoder) edge (bSphingo) edge (bRals) edge (bPedio);
	\path[EdgeStyle] (bQuadri) edge (bMethyl) edge (bPedio) edge (bRothia);
	\path[thinEdgeStyle] (bQuadri) edge (bRals);
	\path[EdgeStyle] (bMethyl) edge (bGeoder) edge (bSphingo) edge (bRals) edge (bPedio);
	\path[thinEdgeStyle] (bMethyl) edge (bCuti);
	\path[EdgeStyle] (bGKS) edge (bMethyl);
	\path[EdgeStyle] (bPaenib) edge (bGeoder) edge (bSphingo) edge (bMassil);
	\path[thinEdgeStyle] (bPaenib) edge (bCuti);
	\path[EdgeStyle] (bGeoder) edge (bSphingo) edge (bCuti) edge (bPseudo) edge (bCandSol) edge (bNitro);
	\path[EdgeStyle] (bSphingo) edge (bPseudo) edge (bTurici) edge (bPedio) edge (bNitro) edge (bBryo) edge (bUncChloro);
	\path[EdgeStyle] (bRothia) edge (bPedio);
	\path[EdgeStyle] (bCuti) edge (bPseudo) edge (bRals);
	\path[EdgeStyle] (bTurici) edge (bPedio);
	\path[thinEdgeStyle] (bTurici) edge (bHalia);
	\path[thickEdgeStyle] (bAllorh) edge (bPseudo);
	\path[thickEdgeStyle] (bQuadri) edge (bGeoder) edge (bPseudo);
	\path[thickEdgeStyle] (bMethyl) edge (bPseudo);
	\path[thickEdgeStyle] (bGKS) edge (bPedio);
	\path[thickEdgeStyle] (bPaenib) edge (bPseudo);
	\path[thickEdgeStyle] (bRals) edge (bPseudo) edge (bPedio);
	\path[thickEdgeStyle] (bTurici) edge (bRombo);
	\path[thickEdgeStyle] (bSphingo) edge (bGemma) edge (bHalia) edge (bUncBact);
	\path[EdgeStyle] (bNitro) edge (bUncForest) edge (bCandSol) edge (bHalia) edge (bUncBact) edge (bUncult);
	\path[thinEdgeStyle] (bNitro) edge (bBryo);
	\path[thickEdgeStyle] (bNitro) edge (bGemma);
	\path[thinEdgeStyle] (bBacil) edge (bBryo);
	\path[EdgeStyle] (bUncForest) edge (bHalia) edge (bBryo) edge (bUncult) edge (bUncBact) edge (bUncChloro);
	\path[thickEdgeStyle] (bUncForest) edge (bCandSol) edge (bGemma);
	\path[EdgeStyle] (bCandSol) edge (bUncChloro) edge (bHalia) edge (bBryo) edge (bUncult) edge (bUncBact) edge (bGemma);
	\path[EdgeStyle] (bUncChloro) edge (bHalia) edge (bBryo) edge (bUncult);
	\path[thinEdgeStyle] (bUncChloro) edge (bGemma);
	\path[thickEdgeStyle] (bUncChloro) edge (bUncBact);
	\path[EdgeStyle] (bGemma) edge (bUncult);
	\path[thickEdgeStyle] (bGemma) edge (bHalia) edge (bBryo);
	\path[EdgeStyle] (bHalia) edge (bUncBact) edge (bBryo) edge (bUncult);
	\path[EdgeStyle] (bBryo) edge (bUncult);
	\path[thickEdgeStyle] (bUncBact) edge (bBryo) edge (bUncult);
	\path[EdgeStyle] (bOlsen) edge (bEubCop) edge (bErysc) edge (bSubdo) edge (bRum013) edge (bChris) edge (bBlautia) edge (bRumTor) edge (bFaecal) edge (bRum014) edge (bEubHal) edge (bUncult);
	\path[EdgeStyle] (bErysc) edge (bEubCop) edge (bCollin) edge (bRum013) edge (bChris) edge (bBlautia) edge (bRumTor) edge (bEry003) edge (bFaecal) edge (bEubHal) edge (bUncult) edge (bBryo);
	\path[thinEdgeStyle] (bErysc) edge (bRum014);
	\path[EdgeStyle] (bSubdo) edge (bEubCop) edge (bCollin) edge (bRum013) edge (bChris) edge (bBlautia) edge (bRumTor) edge (bEry003) edge (bFaecal) edge (bUncult);
	\path[EdgeStyle] (bEubCop) edge (bRum013) edge (bChris) edge (bBlautia) edge (bRumTor) edge (bFaecal) edge (bRum014) edge (bUncult);
	\path[EdgeStyle] (bCollin) edge (bEubHal) edge (bRum013) edge (bChris) edge (bUncult);
	\path[EdgeStyle] (bRum013) edge (bBlautia) edge (bRumTor) edge (bEry003) edge (bFaecal) edge (bRum014) edge (bEubHal) edge (bUncult);
	\path[EdgeStyle] (bEubHal) edge (bChris) edge (bBlautia) edge (bRumTor) edge (bEry003) edge (bFaecal) edge (bRum014) edge (bUncult) edge (bBryo);
	\path[EdgeStyle] (bChris) edge (bRumTor) edge (bEry003) edge (bFaecal) edge (bRum014);
	\path[thinEdgeStyle] (bChris) edge (bBactero);
	\path[EdgeStyle] (bBlautia) edge (bEry003) edge (bFaecal) edge (bRum014);
	\path[EdgeStyle] (bRumTor) edge (bFaecal) edge (bRum014);
	\path[EdgeStyle] (bEry003) edge (bFaecal) edge (bRum014);
	\path[EdgeStyle] (bFaecal) edge (bRum014);
	\path[EdgeStyle] (bStrepto) edge (bUncActino) edge (bRum014) edge (bFaecal) edge (bEry003);
	\path[EdgeStyle] (bSub10) edge (bUncActino) edge (bRum014) edge (bFaecal) edge (bBryo);
	\path[EdgeStyle] (bUncActino) edge (bRum014);
	\path[thickEdgeStyle] (bOlsen) edge (bEry003);
	\path[thickEdgeStyle] (bErysc) edge (bSubdo);
	\path[thickEdgeStyle] (bSubdo) edge (bEubHal);
	\path[thickEdgeStyle] (bRum013) edge (bChris);
	\path[thickEdgeStyle] (bChris) edge (bBlautia);
	\path[thickEdgeStyle] (bBlautia) edge (bRumTor);
	\path[thickEdgeStyle] (bRumTor) edge (bEry003);
	\path[thickEdgeStyle] (bStrepto) edge (bSub10);
	\end{pgfonlayer}
	% legends
	\node[acidoStyle, minimum size=27pt] (legAcidoA) at (1233,144) {};
	\node[legendStyle, right=13pt of legAcidoA] (legAcidoAtext) {Acidobacteria};
	\node[actinoStyle, minimum size=27pt] (legActinoA) at (1233,184.25) {};
	\node[legendStyle, right=13pt of legActinoA] (legActinoAtext) {Actinobacteria};
	\node[brcStyle, minimum size=27pt] (legBrcA) at (1233,224.5) {};
	\node[legendStyle, right=13pt of legBrcA] (legBrcAtext) {BRC1};
	\node[bacteroStyle, minimum size=27pt] (legBacteroA) at (1233,264.75) {};
	\node[legendStyle, right=13pt of legBacteroA] (legBacteroAtext) {Bacteroidetes};
	\node[chloroStyle, minimum size=27pt] (legChloroA) at (1233,305) {};
	\node[legendStyle, right=13pt of legChloroA] (legChloroAtext) {Chloroflexi};
	\node[elusiStyle, minimum size=27pt] (legElusiA) at (1233,345.25) {};
	\node[legendStyle, right=13pt of legElusiA] (legElusiAtext) {Elusimicrobia};
	\node[entoStyle, minimum size=27pt] (legEntoA) at (1233,385.5) {};
	\node[legendStyle, right=13pt of legEntoA] (legEntoAtext) {Entotheonellaeota};
	\node[firmStyle, minimum size=27pt] (legFirmA) at (1233,425.75) {};
	\node[legendStyle, right=13pt of legFirmA] (legFirmAtext) {Firmicutes};
	\node[fusoStyle, minimum size=27pt] (legFusoA) at (1233,466) {};
	\node[legendStyle, right=13pt of legFusoA] (legFusoAtext) {Fusobacteria};
	\node[gemmaStyle, minimum size=27pt] (legGemmaA) at (1233,506.25) {};
	\node[legendStyle, right=13pt of legGemmaA] (legGemmaAtext) {Gemmatimonadetes};
	\node[nitroStyle, minimum size=27pt] (legNitroA) at (1233,546.5) {};
	\node[legendStyle, right=13pt of legNitroA] (legNitroAtext) {Nitrospirae};
	\node[proteoStyle, minimum size=27pt] (legProteoA) at (1233,586.75) {};
	\node[legendStyle, right=13pt of legProteoA] (legProteoAtext) {Proteobacteria};
	\node[zixiStyle, minimum size=27pt] (legZixiA) at (1233,627) {};
	\node[legendStyle, right=13pt of legZixiA] (legZixiAtext) {Zixibacteria};
	\node[acidoStyle, minimum size=27pt] (legAcidoB) at (1233,954) {};
	\node[legendStyle, right=13pt of legAcidoB] (legAcidoBtext) {Acidobacteria};
	\node[actinoStyle, minimum size=27pt] (legActinoB) at (1233,994.25) {};
	\node[legendStyle, right=13pt of legActinoB] (legActinoBtext) {Actinobacteria};
	\node[brcStyle, minimum size=27pt] (legBrcB) at (1233,1034.5) {};
	\node[legendStyle, right=13pt of legBrcB] (legBrcBtext) {BRC1};
	\node[bacteroStyle, minimum size=27pt] (legBacteroB) at (1233,1074.75) {};
	\node[legendStyle, right=13pt of legBacteroB] (legBacteroBtext) {Bacteroidetes};
	\node[chloroStyle, minimum size=27pt] (legChloroB) at (1233,1115) {};
	\node[legendStyle, right=13pt of legChloroB] (legChloroBtext) {Chloroflexi};
	\node[elusiStyle, minimum size=27pt] (legElusiB) at (1233,1155.25) {};
	\node[legendStyle, right=13pt of legElusiB] (legElusiBtext) {Elusimicrobia};
	\node[entoStyle, minimum size=27pt] (legEntoB) at (1233,1195.5) {};
	\node[legendStyle, right=13pt of legEntoB] (legEntoBtext) {Entotheonellaeota};
	\node[firmStyle, minimum size=27pt] (legFirmB) at (1233,1235.75) {};
	\node[legendStyle, right=13pt of legFirmB] (legFirmBtext) {Firmicutes};
	\node[fusoStyle, minimum size=27pt] (legFusoB) at (1233,1276) {};
	\node[legendStyle, right=13pt of legFusoB] (legFusoBtext) {Fusobacteria};
	\node[gemmaStyle, minimum size=27pt] (legGemmaB) at (1233,1316.25) {};
	\node[legendStyle, right=13pt of legGemmaB] (legGemmaBtext) {Gemmatimonadetes};
	\node[nitroStyle, minimum size=27pt] (legNitroB) at (1233,1356.5) {};
	\node[legendStyle, right=13pt of legNitroB] (legNitroBtext) {Nitrospirae};
	\node[proteoStyle, minimum size=27pt] (legProteoB) at (1233,1396.75) {};
	\node[legendStyle, right=13pt of legProteoB] (legProteoBtext) {Proteobacteria};
	\node[zixiStyle, minimum size=27pt] (legZixiB) at (1233,1437) {};
	\node[legendStyle, right=13pt of legZixiB] (legZixiBtext) {Zixibacteria};
\end{tikzpicture}
\end{document}
